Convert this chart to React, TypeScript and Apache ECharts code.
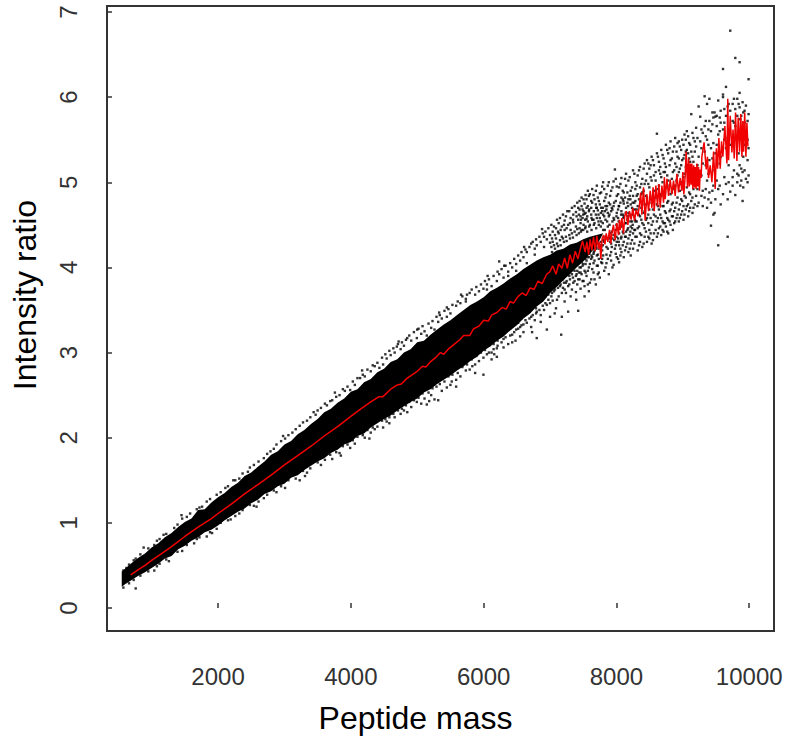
import React, { useEffect, useRef } from "react";
import * as echarts from "echarts";

const xTicks = [2000, 4000, 6000, 8000, 10000];
const yTicks = [0, 1, 2, 3, 4, 5, 6, 7];

const bandMass = [550,600,700,800,900,1000,1100,1200,1300,1400,1500,1600,1700,1800,1900,2000,2100,2200,2300,2400,2500,2600,2700,2800,2900,3000,3100,3200,3300,3400,3500,3600,3700,3800,3900,4000,4100,4200,4300,4400,4500,4600,4700,4800,4900,5000,5100,5200,5300,5400,5500,5600,5700,5800,5900,6000,6100,6200,6300,6400,6500,6600,6700,6800,6900,7000,7100,7200,7300,7400,7500,7600,7700,7800];
const bandUpper = [.43,.46,.53,.59,.64,.71,.76,.83,.88,.95,1.01,1.05,1.15,1.16,1.24,1.30,1.35,1.42,1.47,1.55,1.59,1.66,1.72,1.80,1.84,1.92,1.96,2.04,2.09,2.16,2.22,2.30,2.34,2.41,2.46,2.54,2.57,2.65,2.69,2.77,2.81,2.89,2.92,3.00,3.04,3.12,3.14,3.21,3.27,3.33,3.38,3.44,3.50,3.56,3.60,3.65,3.72,3.76,3.81,3.87,3.92,3.98,4.03,4.08,4.12,4.15,4.20,4.22,4.27,4.29,4.33,4.36,4.38,4.40];
const bandLower = [.25,.28,.33,.38,.42,.47,.52,.58,.61,.69,.73,.79,.83,.89,.92,.97,1.03,1.08,1.13,1.17,1.23,1.27,1.34,1.37,1.43,1.46,1.53,1.56,1.62,1.67,1.72,1.76,1.82,1.86,1.92,1.95,2.02,2.05,2.12,2.17,2.22,2.26,2.32,2.37,2.42,2.46,2.53,2.57,2.63,2.68,2.73,2.79,2.84,2.90,2.95,3.02,3.07,3.14,3.19,3.26,3.32,3.40,3.46,3.54,3.60,3.70,3.77,3.85,3.92,4.00,4.07,4.16,4.25,4.40];

const lineMass = [685,800,900,1000,1150,1300,1500,1700,1900,2000,2200,2400,2600,2800,3000,3200,3400,3600,3800,4000,4135,4300,4420,4480,4600,4700,4760,4850,5000,5080,5130,5210,5290,5350,5400,5480,5560,5640,5700,5790,5850,5930,6000,6070,6120,6200,6280,6340,6400,6450,6520,6580,6640,6700,6760,6820,6880,6950,7000,7040,7090,7130,7180,7220,7260,7300,7340,7380,7420,7454,7490,7529,7555,7580,7605,7630,7655,7680,7705,7730,7748,7765,7785,7806,7826,7846,7870,7896,7915,7931,7955,7981,8005,8032,8045,8057,8082,8107,8125,8147,8172,8197,8222,8247,8272,8298,8323,8348,8365,8383,8408,8433,8458,8484,8509,8534,8552,8569,8594,8619,8640,8659,8685,8710,8722,8735,8760,8785,8810,8835,8860,8885,8910,8935,8960,8986,9000,9015,9036,9050,9070,9086,9098,9112,9125,9136,9150,9163,9176,9187,9200,9212,9225,9237,9250,9262,9275,9287,9320,9352,9370,9387,9412,9438,9463,9488,9505,9523,9543,9563,9583,9603,9633,9664,9677,9689,9714,9739,9756,9774,9794,9814,9834,9854,9872,9890,9902,9915,9932,9950,9965,9980,9990,10000,10000];
const lineRatio = [.39,.45,.50,.56,.64,.72,.84,.95,1.05,1.11,1.22,1.34,1.45,1.56,1.68,1.79,1.90,2.02,2.13,2.25,2.33,2.42,2.48,2.48,2.57,2.62,2.63,2.70,2.78,2.84,2.83,2.90,2.95,3.00,2.98,3.05,3.10,3.15,3.20,3.20,3.28,3.31,3.38,3.37,3.44,3.47,3.53,3.51,3.60,3.58,3.66,3.70,3.67,3.76,3.74,3.84,3.81,3.92,3.95,4.02,3.92,4.04,3.99,4.11,3.99,4.15,4.05,4.19,4.10,4.21,4.31,4.18,4.30,4.15,4.33,4.20,4.36,4.19,4.37,4.22,4.30,4.10,4.34,4.38,4.27,4.40,4.30,4.44,4.28,4.40,4.50,4.32,4.52,4.38,4.56,4.44,4.58,4.40,4.60,4.66,4.50,4.66,4.56,4.70,4.55,4.68,4.60,4.74,4.88,4.62,4.94,4.55,4.86,4.66,4.90,4.70,4.94,4.66,4.96,4.72,4.98,4.70,4.96,4.76,5.06,4.80,5.04,4.84,5.03,4.86,5.02,4.84,5.10,4.88,5.05,4.90,5.12,4.86,5.08,5.36,4.94,5.28,4.95,5.22,4.97,5.22,4.92,5.20,4.94,5.18,4.92,5.22,4.95,5.18,4.90,5.15,5.05,5.30,5.47,5.15,5.30,5.05,5.20,5.00,5.36,4.92,5.40,5.16,5.52,5.16,5.48,5.30,5.66,5.22,5.98,5.26,5.78,5.35,5.62,5.28,5.82,5.25,5.76,5.36,5.80,5.30,5.72,5.36,5.82,5.30,5.70,5.42];

// Each row: a mass, followed by ratios of the loose dots read at that mass.
const cloudRows = [
[620,.47],[760,.23,.58],[880,.71],[1040,.44,.74],[1180,.86],[1260,.55],[1340,.94],[1460,.67,1.05],[1580,1.11],[1640,.76],[1760,1.19],[1830,.84,1.25],
[1980,.93,1.33],[2110,1.41],[2190,1.04],[2320,1.52,1.11],[2450,1.60],[2540,1.20,1.68],[2690,1.76,1.29],[2790,1.84],[2880,1.36,1.92],[3010,1.99,1.41],
[3120,2.06],[3230,1.50,2.14],[3340,1.59,2.20],[3470,2.27],[3550,1.68,2.35],[3640,2.38],[3720,1.75,2.44],[3830,2.50,1.82],[3910,2.55],[3990,2.56,1.88],
[4060,2.62,1.93],[4140,2.70],[4210,2.00,2.72],[4300,2.78,2.06],[4360,2.84,2.10],[4430,2.82],[4486,2.86,2.12],[4540,2.93,2.19],[4600,2.97],[4660,2.24,3.00],[4693,3.07],[4750,3.04,2.28],
[4800,3.08,2.32],[4850,3.17,2.30],[4910,3.14,2.36],[4994,3.17,2.42],[5060,3.22,2.40],[5110,3.25,2.46],[5144,2.39,3.20],[5210,3.29,2.50],[5260,3.27,2.45],[5316,2.44,3.36],[5370,3.40,2.55],
[5446,3.53,2.59,3.42],[5500,3.46,2.62],[5586,3.55,2.60,2.68],[5650,3.58,2.72],[5732,3.63,2.79,3.60],[5790,3.70,2.80],[5872,2.76,3.68,2.86],[5930,3.72,2.90],[5997,2.74,3.75,2.94],
[6050,3.80,2.98,3.74],[6120,3.78,3.00,2.92],[6199,2.95,3.84,3.05],[6234,4.07,3.92],[6300,3.88,3.06,3.16],[6370,3.95,3.10,3.90],[6430,4.00,3.21,3.12],[6490,4.04,3.27,3.96],[6550,3.19,4.08,3.30],
[6600,4.12,3.33,3.24],[6650,4.05,3.35,4.18],[6716,4.28,3.30,3.42],[6770,4.22,3.38,4.15],[6800,3.17,4.26,3.48],[6860,4.30,3.44,3.36],[6910,4.24,3.50,4.36],[6952,3.27,4.33,3.56],
[7000,4.38,3.58,3.42,4.29],[7040,4.42,3.61,4.30],[7090,3.52,4.34,4.46],[7130,3.66,4.40,4.52],[7178,3.42,3.70,4.48,4.36],[7168,3.21],[7220,4.44,3.60,3.74,4.55],[7273,3.48,4.50,3.78],[7310,4.58,3.66,4.44],[7350,3.82,4.53,4.62],
[7390,3.71,4.48,3.90,4.65],[7424,3.49,4.56,3.86,4.70],[7460,3.75,3.94,4.60,4.52],[7490,4.68,3.84,4.02,4.58],[7520,3.78,4.75,3.96,4.63,3.66],[7550,4.08,4.70,3.90,4.57,4.80],[7585,3.72,4.00,4.66,4.12,4.84],[7620,4.78,3.86,4.10,4.62,4.70],
[7655,3.94,4.05,4.85,4.16,4.56],[7690,4.74,3.80,4.22,4.90,4.62],[7720,4.02,4.15,4.82,4.67,3.92],[7750,4.87,3.88,4.26,4.58,4.74],[7785,4.10,4.20,4.95,4.66,4.05],[7816,4.92,3.96,4.30,4.78,4.60],
[7850,4.15,4.05,4.86,4.68,4.24],[7885,4.76,3.92,4.34,5.00,4.60],[7920,4.18,4.28,4.90,4.66,4.08],[7957,5.01,4.03,4.38,4.72,4.58],[7977,5.15,4.22],[8005,4.12,4.30,4.84,4.64,4.95],
[8040,4.26,4.94,4.72,4.06,4.40],[8075,5.05,4.18,4.36,4.66,4.82],[8110,4.30,4.88,4.75,4.12,4.60],[8145,5.10,4.24,4.42,4.70,4.96],[8180,4.34,4.80,4.64,4.18,5.02],[8215,4.90,4.28,4.48,4.74,4.14],
[8250,5.14,4.40,4.68,4.84,4.22],[8285,4.36,5.00,4.78,4.54,4.92],[8320,5.08,4.20,4.46,4.72,4.86],[8355,4.30,5.18,4.60,4.94,4.40],[8390,4.52,5.04,4.74,4.24,4.88],[8425,5.22,4.36,4.66,4.98,4.46],
[8460,4.30,5.10,4.82,4.58,5.26],[8495,4.44,4.94,4.68,5.16,4.34],[8530,5.30,4.50,4.76,5.02,4.28],[8565,4.40,5.20,4.90,4.62,5.08],[8610,5.57,4.54,4.74,5.34,4.36],[8640,5.14,4.46,4.96,4.68,5.24],
[8675,4.58,5.38,4.84,4.38,5.06],[8710,5.28,4.52,4.72,5.12,4.42],[8745,4.64,5.44,4.94,4.48,5.18],[8780,5.34,4.56,5.02,4.78,4.40],[8815,4.68,5.26,4.86,5.48,4.50],[8850,5.12,4.60,5.36,4.76,4.44],
[8885,5.52,4.70,4.96,5.22,4.54],[8920,4.62,5.30,4.82,5.08,5.46],[8955,5.42,4.74,5.16,4.58,4.90],[8990,5.50,4.66,5.26,5.00,4.78],[9025,4.84,5.56,4.62,5.32,5.10],[9060,5.38,4.72,5.20,4.94,5.60],
[9095,4.88,5.46,4.66,5.14,5.28],[9127,5.80,4.78,5.04,5.36],[9160,5.52,4.70,5.24,4.92],[9200,5.42,4.84,5.64,5.12],[9238,5.89,4.76,5.30,4.98],[9262,5.77,5.10,5.48],[9300,5.58,4.72,5.22,4.90],
[9328,6.01,5.36,4.82,5.66],[9365,5.92,5.02,5.50,4.70],[9400,5.98,4.88,5.72,5.26],[9424,4.49,5.40,4.76,5.60],[9460,5.76,4.96,5.46,4.62],[9478,4.64,5.82,5.14],[9490,5.77,4.80,5.34],
[9533,5.96,4.26,5.56,4.92],[9570,5.70,4.74,5.30,5.84],[9605,6.33,6.03,6.00,4.86,5.62],[9650,6.12,5.78,5.40,4.98],[9675,5.89,4.36,5.52,4.80],[9714,6.78,4.89,5.84,5.44],[9750,5.72,5.06,5.92,4.96],
[9790,6.46,4.85,5.66,5.86],[9820,5.78,5.10,5.98,5.00],[9855,6.41,6.05,5.88,5.20],[9865,4.96,5.74],[9900,4.78,5.94,5.12,5.64],[9910,4.94,5.82,5.30],[9950,5.90,5.04,5.60],[9990,6.21,5.80,5.08,5.40],
];

// Second pass of dots: the ones crowding the edge of the dense band and the sparser cloud at high mass.
const edgeRows = [
[575,.44,.24],[660,.51,.29],[730,.56,.33],[830,.63,.38],[950,.70,.43],[1080,.79,.49],[1120,.81,.52],[1220,.87,.57],[1390,.98,.66],[1530,1.07,.74],[1680,1.16,.81],[1720,1.18,.83],[1880,1.28,.89],[2040,1.36,1.00],[2150,1.43,1.03],[2260,1.50,1.08],[2370,1.58,1.15],[2480,1.65,1.21],[2610,1.72,1.25],[2740,1.81,1.33],[2840,1.87,1.38],[2950,1.96,1.43],[3060,2.03,1.50],[3170,2.10,1.52],[3280,2.18,1.61],[3390,2.24,1.64],[3500,2.32,1.71],[3610,2.40,1.74],[3690,2.43,1.80],[3780,2.48,1.83],[3880,2.57,1.90],[3950,2.60,1.92],
[4030,2.66,1.97],[4100,2.70,2.01],[4180,2.74,2.03],[4250,2.80,2.09],[4330,2.85,2.12],[4400,2.88,2.13],[4470,2.94,2.20],[4520,2.98,2.22],[4580,3.02,2.24],[4640,3.05,2.28],[4710,3.10,2.32],[4770,3.12,2.34],[4830,3.15,2.38],[4880,3.20,2.42],[4950,3.24,2.44],[5020,3.28,2.47],[5080,3.31,2.52],[5170,3.34,2.53],[5230,3.37,2.58],[5290,3.42,2.60],[5340,3.44,2.63],[5410,3.49,2.66],[5470,3.51,2.72],[5530,3.56,2.74],[5610,3.60,2.76],[5680,3.66,2.83],[5750,3.68,2.86],[5820,3.74,2.92],[5890,3.77,2.96],[5960,3.80,3.00],
[6020,3.84,3.03,3.09],[6080,3.86,3.08,3.00],[6150,3.90,3.10,3.04],[6210,3.95,3.14,3.08],[6270,3.98,3.20,3.12],[6330,4.02,3.18,3.25],[6400,4.05,3.28,3.20],[6460,4.10,3.24,3.33],[6520,4.14,3.35,3.28],[6570,4.18,3.40,3.32],[6630,4.21,3.38,3.45],[6690,4.24,3.48,3.40],[6740,4.30,3.44,3.53],[6790,4.33,3.52,3.46],[6840,4.36,3.50,3.60],[6890,4.40,3.62,3.55],[6930,4.42,3.58,3.66],[6975,4.46,3.68,3.62],[7020,4.24,4.50,3.66,3.75],[7060,4.26,4.48,3.72,3.78],[7105,4.28,4.56,3.62,3.80],[7150,4.32,4.58,3.78,3.84],[7195,4.34,4.62,3.76,3.86],[7240,4.36,4.60,3.82,3.70],[7290,4.38,4.66,3.90,3.80],[7330,4.40,4.70,3.92,3.74],[7370,4.42,4.72,3.84,3.96],[7410,4.45,4.76,3.96,3.80],[7445,4.46,4.68,4.00,3.86,4.78],
[7475,4.44,4.72,4.06,3.92,4.82],[7505,4.50,4.80,4.10,3.84,4.66],[7535,4.48,4.85,4.04,3.94,4.64],[7570,4.54,4.72,4.16,3.96,4.90],[7600,4.50,4.86,4.18,4.04,3.82],[7635,4.56,4.92,4.12,3.98,4.76],[7670,4.52,4.80,4.20,4.08,3.86],[7705,4.58,4.96,4.14,4.02,4.70],[7735,4.50,4.78,4.28,4.10,3.94],[7770,4.54,4.88,4.24,4.06,4.70],[7800,4.44,5.00,4.32,4.14,4.62],[7835,4.56,4.82,4.36,4.00,4.72],[7870,4.48,4.96,4.22,4.10,4.64],[7905,4.40,4.84,4.30,4.14,4.74],[7940,4.54,4.94,4.34,4.00,4.68],[7990,4.44,4.78,4.26,4.16,5.04],[8025,4.58,4.86,4.34,4.10,4.68],[8060,4.50,4.98,4.22,4.14,4.76],[8095,4.62,4.90,4.42,4.26,4.80],[8130,4.52,5.04,4.36,4.20,4.82],[8165,4.56,4.88,4.28,4.44,4.76],[8200,4.62,5.06,4.38,4.22,4.84],[8235,4.54,4.94,4.32,4.46,4.70],[8270,4.60,5.10,4.44,4.28,4.76],[8305,4.54,4.96,4.36,4.68,4.84],[8340,4.62,5.14,4.48,4.26,4.80],[8375,4.56,4.98,4.38,4.70,4.86],[8410,4.64,5.16,4.50,4.28,4.90],[8445,4.56,5.02,4.42,4.74,4.84],[8480,4.62,5.22,4.52,4.36,4.98],[8515,4.58,5.06,4.40,4.80,5.20],[8550,4.68,5.26,4.54,4.32,4.84],[8590,4.60,5.12,4.44,4.82,5.02],[8625,4.72,5.30,4.58,4.40,4.92],[8660,4.62,5.18,4.48,4.86,5.10],[8695,4.72,5.32,4.54,4.44,5.00],[8730,4.66,5.22,4.52,4.88,5.12],[8765,4.76,5.38,4.58,4.42,5.08],[8800,4.66,5.20,4.54,4.96,5.40],[8835,4.74,5.28,4.60,5.04,4.88],[8870,4.66,5.42,4.52,4.92,5.14],[8905,4.76,5.36,4.58,5.02,5.18],[8940,4.68,5.28,4.54,5.12,5.48],[8975,4.80,5.38,4.62,4.98,5.20],[9010,4.72,5.44,4.56,5.06,5.28],[9045,4.82,5.50,4.68,5.18,5.36],[9080,4.74,5.34,4.60,5.02,5.54],[9110,4.86,5.44,4.70,5.24,5.12],[9145,4.82,5.58,4.64,5.30,5.14],[9180,4.74,5.48,5.00,5.36],[9220,4.92,5.52,4.72,5.20],[9280,4.84,5.62,5.08,5.40],[9345,4.92,5.54,5.20,5.72],[9385,4.80,5.62,5.10,5.44],[9445,4.90,5.68,5.28,5.82],[9510,5.02,5.66,5.44,5.78],[9555,4.96,5.76,5.22,5.60],[9625,5.06,5.86,5.50,5.70],[9690,5.00,5.92,5.62,5.20],[9770,5.14,5.98,5.70,5.52],[9840,5.08,5.92,5.60,5.34],[9880,5.02,5.78,5.50,5.16],[9930,5.14,5.70,5.44,5.84],[9975,5.00,5.72,5.26,5.50],
];

// Third pass: stray dots further from the band, and the crowd close to the line past the dense part.
const strayRows = [
[1450,1.09],[1910,.88],[2230,1.50],[2580,1.19],[2980,2.02],[3310,1.55],[3440,2.30],[3760,2.53],[3850,1.79],[4170,2.79],[4280,1.99],[4580,2.17],[4720,3.13],[5000,3.27],[5180,2.43],[5330,3.47],[5520,2.66],[5660,3.68],[5830,2.84],[6060,3.90],[6160,2.98],[6310,4.02],[6480,3.14],[6610,4.24],[6730,3.24],[6880,4.45],[7070,3.46],[7260,4.66],[7395,3.62],[7570,3.80],
[7030,4.18,4.34,3.70],[7075,4.22,4.38,3.74],[7120,4.25,4.42,3.76],[7160,4.26,4.44,3.80],[7210,4.30,4.50,3.82],[7250,4.31,4.46,3.84],[7300,4.34,4.52,3.86],[7345,4.35,4.56,3.88],[7400,4.38,4.60,3.92],[7435,4.40,4.62,3.94],[7465,4.42,4.56,4.00],[7500,4.44,4.62,4.04],[7530,4.46,4.56,4.10],[7560,4.42,4.60,4.12],[7590,4.48,4.68,4.16],[7625,4.44,4.58,4.14],[7660,4.50,4.66,4.18],[7695,4.46,4.70,4.24],[7730,4.54,4.62,4.22],[7765,4.48,4.64,4.30],[7795,4.52,4.70,4.26],[7825,4.44,4.66,4.32],[7860,4.54,4.72,4.34],[7895,4.50,4.62,4.36],[7930,4.42,4.70,4.24],[7965,4.56,4.76,4.32],[8000,4.50,4.60,4.36],[8035,4.54,4.72,4.30],[8070,4.48,4.62,4.34],[8105,4.58,4.78,4.40],[8140,4.52,4.64,4.36],[8175,4.60,4.72,4.46],[8210,4.54,4.80,4.42],[8245,4.62,4.76,4.50],[8280,4.56,4.68,4.44],
];

const cloud: number[][] = [];
cloudRows.concat(edgeRows, strayRows).forEach((row) => row.slice(1).forEach((r) => cloud.push([row[0], r])));

export default function App() {
  const ref = useRef<HTMLDivElement>(null);
  useEffect(() => {
    document.body.style.margin = "0";
    const chart = echarts.init(ref.current!, null, { renderer: "svg" });
    chart.setOption({
      animation: false,
      backgroundColor: "#ffffff",
      grid: { left: 107, top: 6, width: 667, height: 625, outerBoundsMode: "none", containLabel: false, show: true, borderColor: "#333", borderWidth: 2, backgroundColor: "transparent" },
      xAxis: {
        type: "value", min: 328, max: 10373,
        name: "Peptide mass", nameLocation: "middle", nameGap: 71,
        nameTextStyle: { fontFamily: "Liberation Sans", fontSize: 32, color: "#000", padding: [0, 50, 0, 0] },
        splitLine: { show: false }, axisLine: { show: false },
        axisTick: { show: true, inside: true, length: 5, customValues: xTicks, lineStyle: { color: "#333", width: 1.5 } },
        axisLabel: { show: true, customValues: xTicks, margin: 33, fontFamily: "Liberation Sans", fontSize: 24, color: "#333", formatter: (v: number) => String(v) },
      },
      yAxis: {
        type: "value", min: -0.27, max: 7.07,
        name: "Intensity ratio", nameLocation: "middle", nameGap: 66, nameRotate: 90,
        nameTextStyle: { fontFamily: "Liberation Sans", fontSize: 32, color: "#000", padding: [0, 0, 0, 47] },
        splitLine: { show: false }, axisLine: { show: false },
        axisTick: { show: true, inside: true, length: 5, customValues: yTicks, lineStyle: { color: "#333", width: 1.5 } },
        axisLabel: { show: true, customValues: yTicks, margin: 27, rotate: 90, fontFamily: "Liberation Sans", fontSize: 24, color: "#333", formatter: (v: number) => String(v) },
      },
      series: [
        {
          type: "custom", silent: true, z: 1, clip: true, data: [[bandMass[0], bandLower[0]]],
          encode: { x: 0, y: 1 },
          renderItem: (_p: any, api: any) => {
            const top = bandMass.map((m, i) => api.coord([m, bandUpper[i]]));
            const bottom = bandMass.map((m, i) => api.coord([m, bandLower[i]])).reverse();
            return { type: "polygon", shape: { points: top.concat(bottom) }, style: { fill: "#000" } };
          },
        },
        { type: "scatter", z: 2, silent: true, symbol: "rect", symbolSize: 2.4, itemStyle: { color: "#000" }, data: cloud },
        { type: "line", z: 3, silent: true, showSymbol: false, lineStyle: { color: "#f00000", width: 1.5 }, data: lineMass.map((m, i) => [m, lineRatio[i]]) },
      ],
    });
    return () => chart.dispose();
  }, []);
  return <div ref={ref} style={{ width: 786, height: 740 }} />;
}
